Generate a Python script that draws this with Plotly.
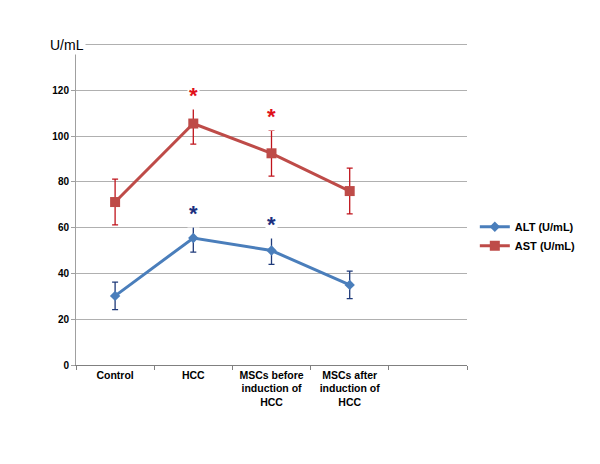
import plotly.graph_objects as go

groups = ["Control", "HCC", "MSCs before<br>induction of<br>HCC", "MSCs after<br>induction of<br>HCC"]
alt = [30.2, 55.5, 50.0, 35.0]
alt_err = [6.0, 6.2, 6.0, 6.0]
ast = [71.2, 105.5, 92.5, 76.0]
ast_err = [10.0, 9.0, 10.0, 10.0]
star_alt = [None, 69, 64, None]
star_ast = [None, 120.5, 111, None]
y_ticks = [0, 20, 40, 60, 80, 100, 120, 140]

xs = list(range(len(groups)))
font = "Liberation Sans, Arial, sans-serif"

fig = go.Figure()
fig.add_trace(go.Scatter(
    x=xs, y=alt, name="<b>ALT (U/mL)</b>", mode="lines+markers",
    line=dict(color="#4a7ebb", width=3),
    marker=dict(symbol="diamond", size=8, color="#4a7ebb"),
    error_y=dict(type="data", array=alt_err, color="#1f3a7a", thickness=1.3, width=3),
))
fig.add_trace(go.Scatter(
    x=xs, y=ast, name="<b>AST (U/mL)</b>", mode="lines+markers",
    line=dict(color="#be4b48", width=3),
    marker=dict(symbol="square", size=10, color="#be4b48"),
    error_y=dict(type="data", array=ast_err, color="#c0141c", thickness=1.3, width=3),
))
# boundary ticks on an overlaid axis
fig.add_trace(go.Scatter(x=[-0.5, 4.5], y=[None, None], xaxis="x2", showlegend=False, hoverinfo="skip"))

for x, y in zip(xs, star_ast):
    if y is not None:
        fig.add_annotation(x=x, y=y, text="<b>*</b>", showarrow=False, bgcolor="white",
                           font=dict(color="#e0101a", size=22, family=font), yshift=-6)
for x, y in zip(xs, star_alt):
    if y is not None:
        fig.add_annotation(x=x, y=y, text="<b>*</b>", showarrow=False, bgcolor="white",
                           font=dict(color="#1b2f80", size=22, family=font), yshift=-6)

fig.add_annotation(xref="paper", x=0, y=140, text="U/mL", showarrow=False, bgcolor="white",
                   font=dict(size=14, color="black", family=font), xanchor="center", xshift=-9)

fig.update_layout(
    width=600, height=464, plot_bgcolor="white", paper_bgcolor="white",
    margin=dict(l=68, r=141, t=32, b=107),
    font=dict(family=font, color="black"),
    xaxis=dict(range=[-0.5, 4.5], tickvals=xs, ticktext=["<b>%s</b>" % g for g in groups],
               ticks="", showgrid=False, showline=True, linecolor="#808080", linewidth=1,
               tickfont=dict(size=10.5), zeroline=False),
    xaxis2=dict(range=[-0.5, 4.5], overlaying="x", side="bottom", tickvals=[-0.5, 0.5, 1.5, 2.5, 3.5, 4.5],
                showticklabels=False, ticks="outside", ticklen=4, tickcolor="#808080",
                showgrid=False, showline=False, zeroline=False),
    yaxis=dict(range=[0, 142], tickvals=y_ticks,
               ticktext=["<b>%d</b>" % v for v in y_ticks[:-1]] + [""],
               showgrid=True, gridcolor="#b0b0b0", gridwidth=1, showline=True, linecolor="#a0a0a0",
               ticks="outside", ticklen=4, tickcolor="#a0a0a0", tickfont=dict(size=10), zeroline=False),
    legend=dict(x=1.02, y=0.47, xanchor="left", yanchor="top", font=dict(size=11, family=font),
                itemwidth=30, tracegroupgap=0, bgcolor="rgba(0,0,0,0)"),
    showlegend=True,
)

fig.write_html("out.html")
